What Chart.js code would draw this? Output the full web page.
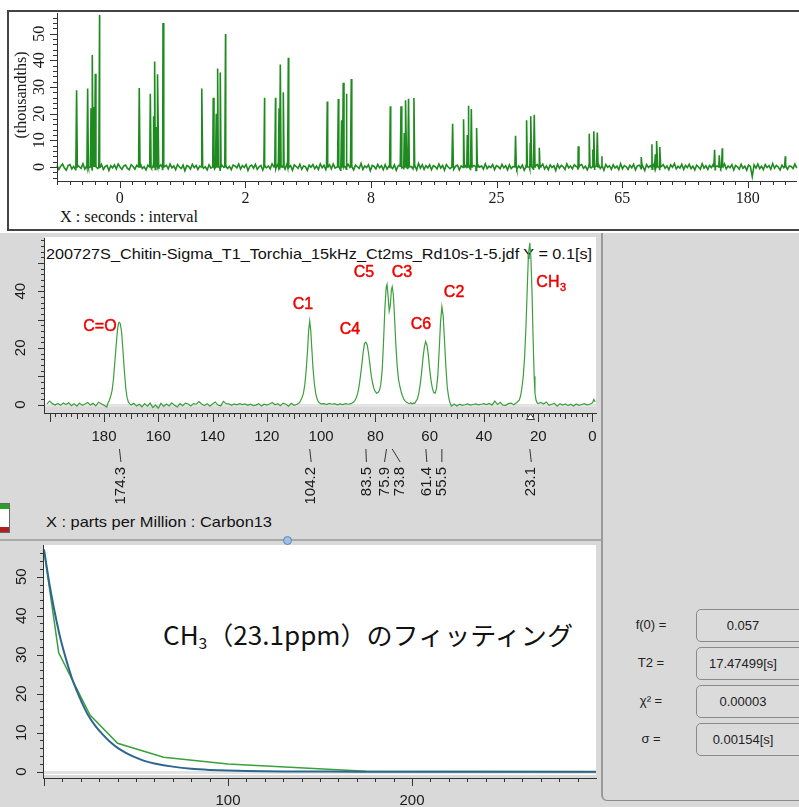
<!DOCTYPE html>
<html>
<head>
<meta charset="utf-8">
<script src="https://cdn.jsdelivr.net/npm/chart.js@4.4.1/dist/chart.umd.min.js"></script>
<style>
html, body { margin: 0; padding: 0; }
body { width: 799px; height: 807px; position: relative; overflow: hidden; background: #fff; font-family: "Liberation Sans", Arial, sans-serif; }
.abs { position: absolute; }
canvas { position: absolute; left: 0; top: 0; pointer-events: none; }
.fit { white-space: nowrap; transform-origin: 0 50%; }
#topBox { left: 7px; top: 10px; width: 810px; height: 221px; box-sizing: border-box; border: 2px solid #444; border-right: none; background: #fff; }
#grayArea { left: 0; top: 233px; width: 799px; height: 574px; background: #d9d9d9; }
#midWhite { left: 45px; top: 237px; width: 551px; height: 170px; background: #fff; }
#botWhite { left: 44px; top: 545px; width: 552px; height: 230px; background: #fff; }
#split { left: 0; top: 539px; width: 601px; height: 2px; background: #a8a8a8; }
#handle { left: 283px; top: 536px; width: 9px; height: 9px; border-radius: 50%; background: #9dc0e6; border: 1px solid #5e86b5; box-sizing: border-box; }
#widget { left: -2px; top: 503px; width: 12px; height: 30px; box-sizing: border-box; border: 1px solid #666; background: #fff; }
#widget .g { position: absolute; left: 0; top: 0; width: 100%; height: 5px; background: #2aa02a; }
#widget .r { position: absolute; left: 0; bottom: 0; width: 100%; height: 5px; background: #b02020; }
#side { left: 601px; top: 233px; width: 220px; height: 568px; box-sizing: border-box; border-left: 2px solid #9a9a9a; border-bottom: 1.5px solid #8c8c8c; border-bottom-left-radius: 6px; }
.lbl { left: 621px; width: 60px; text-align: center; font-size: 13px; color: #222; line-height: 16px; }
.fld { left: 696px; width: 130px; height: 33px; box-sizing: border-box; border: 1px solid #8a8a8a; border-radius: 5px; background: #dbdbdb; }
.fld span { position: absolute; left: 0; width: 92px; text-align: center; top: 8px; font-size: 13px; line-height: 16px; color: #222; }
</style>
</head>
<body>
<div id="topBox" class="abs"></div>
<div id="grayArea" class="abs"></div>
<div id="midWhite" class="abs"></div>
<div id="botWhite" class="abs"></div>
<div id="split" class="abs"></div>
<div id="widget" class="abs"><div class="g"></div><div class="r"></div></div>
<div id="side" class="abs"></div>

<div class="abs fit" data-w="138" style="left:60px;top:207px;font:16px/20px 'Liberation Serif',serif;color:#111;">X : seconds : interval</div>
<div class="abs fit" data-w="546" style="left:46px;top:245px;font-size:15px;line-height:18px;color:#111;">200727S_Chitin-Sigma_T1_Torchia_15kHz_Ct2ms_Rd10s-1-5.jdf Y = 0.1[s]</div>
<div class="abs fit" data-w="226" style="left:46px;top:513px;font-size:15px;line-height:18px;color:#111;">X : parts per Million : Carbon13</div>
<div class="abs fit" data-w="410" style="left:163px;top:619px;font:25px/30px 'Noto Sans CJK JP',sans-serif;color:#111;">CH<span style="font-size:15px;vertical-align:-4px;line-height:0;">3</span>（23.1ppm）のフィッティング</div>
<div id="fields"></div>

<canvas id="cTop" width="799" height="807"></canvas>
<canvas id="cMid" width="799" height="807"></canvas>
<canvas id="cBot" width="799" height="807"></canvas>
<div id="handle" class="abs"></div>

<script>
const W = 799, H = 807;

// ---------- top panel: arrayed slices ----------
const topTickLabels = ['0', '2', '8', '25', '65', '180'];
const spikeX = [
  -0.344, -0.256, -0.229, -0.219, -0.205, -0.195, -0.161,
  0.155, 0.243, 0.269, 0.280, 0.293, 0.304, 0.344,
  0.654, 0.744, 0.768, 0.779, 0.800, 0.842,
  1.153, 1.240, 1.268, 1.278, 1.302, 1.342,
  1.652, 1.740, 1.766, 1.779, 1.803, 1.843,
  2.154, 2.239, 2.265, 2.278, 2.299, 2.342,
  2.650, 2.737, 2.767, 2.777, 2.799, 2.841,
  3.151, 3.239, 3.268, 3.274, 3.300, 3.340,
  3.650, 3.738, 3.767, 3.775, 3.802, 3.839,
  4.152, 4.237, 4.264, 4.277, 4.301,
  4.736, 4.773, 4.797,
  5.299
];
const spikeH = [
  28.8, 29.4, 22, 42, 22.5, 35, 57,
  29.6, 27.5, 19, 39.6, 15, 34.8, 54,
  29.4, 26, 20, 36.9, 35.4, 49.9,
  26, 26, 22, 38.4, 28, 41,
  24.6, 25.5, 17.5, 31.6, 27.5, 33,
  22.75, 22.75, 12.75, 25, 25.6, 25.9,
  16.25, 17.9, 12, 23, 21.75, 14.6,
  11.75, 17.5, 9, 19, 19.6, 7.25,
  7.75, 12.5, 6.6, 13.4, 12.9, 4,
  3.75, 8.5, 4.75, 9.75, 7.5,
  6.5, 4.4, 7,
  4
];
const noiseTop = [
  0.6,-0.9,0.3,1.1,-0.4,-1.2,0.5,0.9,-0.7,0.2,-1.0,0.8,0.1,-0.5,1.2,-0.8,0.4,-0.2,0.7,-1.1,
  0.3,0.9,-0.6,-0.1,1.0,-0.9,0.2,0.6,-1.3,0.5,-0.3,0.8,-0.7,1.1,0.0,-0.9,0.4,0.7,-0.5,-1.0,
  0.9,0.2,-0.8,0.6,-0.2,1.2,-0.6,0.1,-1.1,0.7,0.3,-0.4,1.0,-0.9,0.5,-0.1,0.8,-1.2,0.2,0.6,
  -0.7,1.1,-0.3,0.4,-1.0,0.9,0.0,-0.6,0.7,-1.4,0.5,0.2,-0.8,1.0,-0.2,0.6,-0.9,0.3,1.2,-0.5,
  0.1,-1.1,0.8,-0.4,0.5,-0.7,1.0,0.3,-1.2,0.6,-0.1,0.9,-0.6,0.2,-1.0,0.7,0.4,-0.3,1.1,-0.8,
  0.5,-0.2,0.9,-1.3,0.3,0.7,-0.5,1.0,-0.9,0.1,0.6,-1.1,0.8,-0.3,0.4,-0.7,1.2,0.0,-0.6,0.9,
  -1.0,0.3,0.6,-0.8,1.1,-0.2,0.5,-1.2,0.8,0.2,-0.5,1.0,-0.9,0.4,0.1,-1.3,0.7,-0.1,0.9,-0.6,
  0.4,-0.9,1.2,-0.3,0.6,-1.0,0.2,0.8,-0.7,1.1,-0.4,0.0,0.9,-1.2,0.5,0.3,-0.8,1.0,-0.2,0.6,
  -1.1,0.7,0.1,-0.5,1.3,-0.9,0.4,-0.2,0.8,-1.4,0.6,0.2,-0.7,1.0,-0.3,0.5,-1.0,0.9,-0.8,0.3,
  1.1,-0.6,0.8,-1.2,0.4,0.9,-0.3,-0.9,0.7,-0.5,1.2,0.2,-0.7,0.6,-1.1,1.3,-0.4,0.8,-0.9,0.5,
  -0.3,0.8,-1.0,0.5,0.1,-0.7,1.1,-0.4,0.6,-1.2,0.9,0.0,-0.6,1.0,-0.8,0.3,0.7,-1.1,0.4,-0.2,
  0.7,-0.5,1.0,-0.9,0.2,0.6,-1.3,0.8,-0.1,0.4,-0.8,1.2,-0.6,0.3,-0.2,0.9,-1.0,0.5,0.1,-0.7,
  1.0,-0.3,0.5,-1.1,0.8,-0.6,0.2,1.1,-0.9,0.4,-0.4,0.7,-1.2,0.6,0.0,-0.5,1.0,-0.8,0.3,0.9,
  -0.6,0.2,1.1,-0.7,0.4,-1.0,0.8,-0.2,0.5,-1.3,1.0,-0.4,0.6,0.1,-0.9,1.2,-0.3,0.4,-0.7,0.8,
  0.2,-1.0,0.6,0.9,-0.5,0.3,-1.1,1.0,-0.2,0.7,-0.8,0.4,1.1,-0.6,0.2,-1.2,0.9,-0.1,0.5,-0.9,
  0.8,-0.4,0.3,-1.0,1.2,-0.7,0.5,0.1,-0.9,0.6,-0.3,1.0,-1.1,0.4,0.7,-0.6,0.2,-1.3,0.9,-0.2,
  0.5,-0.8,1.1,-0.3,0.6,-1.2,0.2,0.9,-0.5,0.4,-1.0,0.8,-0.1,1.3,-0.7,0.3,-0.4,1.0,-0.9,0.6,
  -0.2,1.0,-0.6,0.3,-1.1,0.7,0.0,-0.8,1.2,-0.4,0.5,-0.9,0.6,-0.2,1.1,-1.0,0.4,0.8,-0.6,0.2,
  1.2,-0.7,0.4,-0.3,0.9,-1.1,0.6,0.1,-0.8,1.0,-0.5,0.3,-1.2,0.7,0.2,-3.6,0.8,-0.4,1.1,-0.6,
  0.3,-1.0,0.9,-0.2,0.5,-0.8,1.3,-0.5,0.6,0.0,-1.1,0.7,-0.3,1.0,-0.9,0.4,0.2,-0.6,1.1,-0.4
];

// ---------- middle panel: 13C spectrum ----------
const specPpm = [
  201,200,199,198,197,196,195,194,193,192,191,190,189,188,187,186,185,184,183,182,181,180,179,178.5,
  178,177.5,177,176.5,176,175.5,175,174.6,174.3,174,173.5,173,172.5,172,171.5,171,170.5,170,
  169,168,167,166,165,164,163,162,161,160,159,158,157,156,155,154,153,152,151,150,
  149,148,147,146,145,144,143,142,141,140,139,138,137,136,135,134,133,132,131,130,
  129,128,127,126,125,124,123,122,121,120,119,118,117,116,115,114,113,112,111,110,109,108,
  107.5,107,106.5,106,105.5,105,104.6,104.2,103.8,103.4,103,102.5,102,101.5,101,100.5,100,
  99,98,97,96,95,94,93,92,91,90,89,88,87.5,
  87,86.5,86,85.5,85,84.5,84,83.5,83,82.5,82,81.5,81,80.5,80,79.5,79,78.5,78,77.5,77,76.5,76,
  75.7,75.3,74.9,74.5,74.1,73.8,73.4,73,72.5,72,71.5,71,70.5,70,69.5,69,68.5,68,67.5,67,66.5,66,65.5,
  65,64.5,64,63.5,63,62.5,62,61.5,61,60.5,60,59.5,59,58.5,58,57.5,57,56.5,56,55.5,55,54.5,54,53.5,53,52.5,52,51.5,
  51,50,49,48,47,46,45,44,43,42,41,40,39,38,37,36,35,34,33,32,31,30,29,28,
  27,26.5,26,25.5,25,24.5,24,23.6,23.1,22.7,22.3,21.9,21.5,21.2,20.8,20.4,20,
  19,18,17,16,15,14,13,12,11,10,9,8,7,6,5,4,3,2,1,0,-0.5,-1
];
const specInt = [
  0.2,1.2,0.3,-0.2,0.4,-0.3,0.5,0.0,0.6,-0.4,0.3,-0.6,0.5,-0.3,0.2,0.7,-0.2,0.4,-0.5,0.8,0.3,-0.3,-0.9,0.5,
  1.5,3,5,9,15,21,26.5,28.8,29,28.5,25.5,19,12,6,2.5,0.8,0.2,-0.2,
  0.4,-0.5,0.1,-0.8,0.3,-0.6,0.5,-1.1,-0.2,-1.3,0.4,-0.7,0.2,-0.5,0.6,-0.3,-0.9,0.3,-0.4,0.5,
  0.2,-0.5,0.3,0.1,1.0,0.2,-0.4,0.3,-0.6,0.2,0.9,-0.2,-0.5,1.1,0.3,0.2,-0.3,0.2,-0.1,0.3,
  0.0,0.2,-0.3,0.1,-0.4,-0.2,0.3,-0.5,0.1,-0.2,0.2,0.7,-0.1,0.3,-0.4,0.5,0.1,-0.6,0.4,-0.3,0.0,0.6,
  1.5,2.5,4,7,12,19,26,29.5,26,19.5,13,7.5,4,2,1,0.5,0.2,
  0.3,0.0,0.4,0.1,0.3,-0.1,0.2,0.0,0.3,0.1,0.3,0.9,1.5,
  2.5,4,6.5,10,14,18.5,21.5,22,21,18,14,10,7.5,5.5,4.5,4,4.2,5,7,12,22,34,41.5,
  42.4,38,33,35,40.5,41.6,39,32,22,14,9,6.5,4.5,3,1.8,1.2,0.8,0.5,0.3,0.6,0.2,0.5,0.4,
  1.2,2,4,7,11,16,20,22.2,21,17.5,12.5,8.5,5.8,4.2,4,5.5,10,19,29,34.5,31,22,13,6,2.5,0.6,-0.6,-0.3,
  0.2,-0.5,0.1,-0.3,-0.1,0.2,-0.2,0.0,0.2,-0.1,0.1,0.3,0.0,0.4,-0.2,1.2,0.0,0.8,-0.2,-0.3,0.3,0.5,-0.1,0.6,
  1.5,3,6,10,17,28,42,53,57.1,52,40,24,10,4,1.5,0.6,0.3,
  0.7,0.2,0.9,-0.3,0.1,0.4,-0.6,0.3,-0.2,0.2,-0.4,0.1,-0.5,0.2,-0.3,0.0,0.3,-0.1,0.1,0.6,1.8,0.9
];
const ppmTicks = [180, 160, 140, 120, 100, 80, 60, 40, 20, 0];
const peakPpm = [174.3, 104.2, 83.5, 75.9, 73.8, 61.4, 55.5, 23.1];
const peakTagShift = [1.5, 1.5, 0.5, -2, 8, 1, 0, 1.5];
const peakNames = ['C=O', 'C1', 'C4', 'C5', 'C3', 'C6', 'C2', 'CH3'];
const namePpm = [181.5, 106.7, 89.4, 84.2, 70.2, 63.2, 51.0, 15.3];
const nameY = [27.4, 35.1, 26.6, 46.4, 46.4, 28.1, 39.4, 42.9];

// ---------- bottom panel: CH3 decay and fit ----------
const decayT = [0, 8, 25, 40, 65, 100, 175, 300];
const decayObs = [56.8, 30.5, 14.5, 7.3, 3.7, 2.0, 0.1, 0];
const fitT = [0,3,6,9,12,15,18,21,24,28,32,36,40,45,50,55,60,70,80,90,100,120,140,170,200,250,300];
const fitV = [57,48,40.5,34,28.8,24.2,20.5,17.3,14.5,11.7,9.5,7.6,6.1,4.7,3.6,2.7,2.1,1.3,0.75,0.45,0.28,0.1,0.04,0.01,0,0,0];
const fieldLabels = ['f(0) =', 'T2 =', 'χ² =', 'σ ='];
const fieldValues = ['0.057', '17.47499[s]', '0.00003', '0.00154[s]'];

// side panel fields
const fieldsEl = document.getElementById('fields');
fieldLabels.forEach((l, i) => {
  const top = 609 + i * 38;
  fieldsEl.insertAdjacentHTML('beforeend',
    `<div class="abs lbl" style="top:${top + 8}px">${l}</div>` +
    `<div class="abs fld" style="top:${top}px"><span>${fieldValues[i]}</span></div>`);
});

// squeeze plain texts to the widths in the picture
document.querySelectorAll('.fit').forEach(el => {
  const w = el.getBoundingClientRect().width;
  el.style.transform = `scaleX(${(+el.dataset.w / w).toFixed(4)})`;
});

function tickLoop(A, fn) {
  const n = Math.round((A.end - A.start) / A.step);
  for (let i = 0; i <= n; i++) fn(A.start + i * A.step);
}
function tickLen(A, v) {
  const on = s => s && Math.abs(v / s - Math.round(v / s)) < 1e-6;
  return on(A.major) ? A.majorLen : on(A.mid) ? A.midLen : A.minorLen;
}

// axes are drawn by hand so ticks can be major/minor and y labels rotated
function deco(spec) {
  return {
    id: 'deco',
    beforeDatasetsDraw(chart) {
      if (!spec.zero) return;
      const a = chart.chartArea, y0 = Math.round(chart.scales.y.getPixelForValue(0));
      const ctx = chart.ctx;
      ctx.save();
      ctx.fillStyle = '#e3e3e3';
      ctx.fillRect(a.left, y0 - 1, a.right - a.left, 3);
      ctx.restore();
    },
    afterDatasetsDraw(chart) {
      const ctx = chart.ctx, xs = chart.scales.x, ys = chart.scales.y;
      const X = spec.x, Y = spec.y;
      ctx.save();
      ctx.strokeStyle = '#333'; ctx.fillStyle = '#1a1a1a'; ctx.lineWidth = 1;
      ctx.font = spec.font; ctx.textAlign = 'center'; ctx.textBaseline = 'middle';
      ctx.beginPath();
      ctx.moveTo(X.from, X.at + 0.5); ctx.lineTo(X.to, X.at + 0.5);
      ctx.moveTo(Y.at + 0.5, Y.from); ctx.lineTo(Y.at + 0.5, Y.to);
      tickLoop(X, v => {
        const p = Math.round(xs.getPixelForValue(v)) + 0.5;
        ctx.moveTo(p, X.at); ctx.lineTo(p, X.at + tickLen(X, v));
      });
      tickLoop(Y, v => {
        const p = Math.round(ys.getPixelForValue(v)) + 0.5;
        ctx.moveTo(Y.at, p); ctx.lineTo(Y.at - tickLen(Y, v), p);
      });
      ctx.stroke();
      X.labels.forEach(([v, t]) => ctx.fillText(t, xs.getPixelForValue(v), X.labelAt));
      Y.labels.forEach(([v, t]) => {
        ctx.save();
        ctx.translate(Y.labelAt, ys.getPixelForValue(v));
        ctx.rotate(-Math.PI / 2);
        ctx.fillText(t, 0, 0);
        ctx.restore();
      });
      if (spec.yTitle) {
        ctx.save();
        ctx.translate(spec.yTitle.x, spec.yTitle.y);
        ctx.rotate(-Math.PI / 2);
        ctx.fillText(spec.yTitle.text, 0, 0);
        ctx.restore();
      }
      ctx.restore();
    }
  };
}

const peakPlugin = {
  id: 'peaks',
  afterDatasetsDraw(chart) {
    const ctx = chart.ctx, xs = chart.scales.x, ys = chart.scales.y;
    ctx.save();
    // marker triangle for the selected CH3 slice
    const tx = Math.round(xs.getPixelForValue(23.1)) + 0.5;
    ctx.beginPath();
    ctx.moveTo(tx, 413.5); ctx.lineTo(tx - 4, 419.5); ctx.lineTo(tx + 4, 419.5); ctx.closePath();
    ctx.fillStyle = '#fff'; ctx.fill();
    ctx.strokeStyle = '#333'; ctx.lineWidth = 1; ctx.stroke();
    // ppm tags under the axis
    ctx.fillStyle = '#1a1a1a';
    ctx.font = '15px "Liberation Sans"';
    peakPpm.forEach((p, i) => {
      const px = xs.getPixelForValue(p), lx = px + peakTagShift[i];
      ctx.beginPath(); ctx.moveTo(px, 449); ctx.lineTo(lx, 462); ctx.stroke();
      ctx.save();
      ctx.translate(lx, 467);
      ctx.rotate(-Math.PI / 2);
      ctx.textAlign = 'right'; ctx.textBaseline = 'middle';
      ctx.fillText(p.toFixed(1), 0, 0);
      ctx.restore();
    });
    // red assignment names (regular weight, slightly thickened)
    ctx.fillStyle = '#ee0000';
    ctx.strokeStyle = '#ee0000';
    ctx.lineWidth = 0.45;
    ctx.textBaseline = 'middle';
    const big = '16px "Liberation Sans"', small = '11px "Liberation Sans"';
    const put = (t, x, y) => { ctx.fillText(t, x, y); ctx.strokeText(t, x, y); };
    peakNames.forEach((n, i) => {
      const px = xs.getPixelForValue(namePpm[i]), py = ys.getPixelForValue(nameY[i]);
      if (n === 'CH3') {
        ctx.font = big;
        const w1 = ctx.measureText('CH').width;
        ctx.font = small;
        const w2 = ctx.measureText('3').width;
        const x0 = px - (w1 + w2) / 2;
        ctx.textAlign = 'left';
        ctx.font = big;
        put('CH', x0, py);
        ctx.font = small;
        put('3', x0 + w1 + 0.5, py + 5);
      } else {
        ctx.font = big;
        ctx.textAlign = 'center';
        put(n, px, py);
      }
    });
    ctx.restore();
  }
};

function makeChart(id, datasets, xr, yr, area, plugins, reverse) {
  return new Chart(document.getElementById(id), {
    type: 'scatter',
    data: { datasets },
    options: {
      responsive: false,
      animation: false,
      events: [],
      layout: { padding: { left: area[0], top: area[1], right: W - area[2], bottom: H - area[3] } },
      scales: {
        x: { type: 'linear', display: false, min: xr[0], max: xr[1], reverse: !!reverse },
        y: { type: 'linear', display: false, min: yr[0], max: yr[1] }
      },
      plugins: { legend: { display: false }, tooltip: { enabled: false } }
    },
    plugins
  });
}

// top
const topPts = noiseTop.map((v, i) => ({ x: -0.5 + i * 5.89 / (noiseTop.length - 1), y: v }));
spikeX.forEach((x, i) => {
  topPts.push({ x: x - 0.006, y: 0 }, { x: x, y: spikeH[i] }, { x: x + 0.006, y: 0 });
});
topPts.sort((a, b) => a.x - b.x);

makeChart('cTop', [{
  data: topPts, showLine: true, borderColor: '#1f8a1f', borderWidth: 1.6, pointRadius: 0, clip: false
}], [-0.5, 5.392], [-5.25, 57.75], [57, 13, 797, 181], [deco({
  font: '16px "Liberation Serif"',
  x: { at: 181, from: 57, to: 797, start: -0.5, end: 5.3, step: 0.1, major: 1, majorLen: 7, minorLen: 4,
       labels: topTickLabels.map((t, i) => [i, t]), labelAt: 199 },
  y: { at: 57, from: 13, to: 181, start: -4, end: 56, step: 2, major: 10, majorLen: 7, minorLen: 4,
       labels: [0, 10, 20, 30, 40, 50].map(v => [v, String(v)]), labelAt: 40 },
  yTitle: { text: '(thousandths)', x: 22, y: 95 }
})]);

// middle
makeChart('cMid', [{
  data: specPpm.map((p, i) => ({ x: p, y: specInt[i] })),
  showLine: true, borderColor: '#3d9e3d', borderWidth: 1.2, pointRadius: 0, clip: false
}], [-1.29, 201.73], [-0.88, 58.77], [45, 238, 596, 407], [deco({
  font: '15px "Liberation Sans"', zero: true,
  x: { at: 413, from: 44, to: 597, start: 0, end: 200, step: 2, major: 20, majorLen: 9, mid: 10, midLen: 6, minorLen: 4,
       labels: ppmTicks.map(v => [v, String(v)]), labelAt: 437 },
  y: { at: 44, from: 238, to: 413, start: 0, end: 58, step: 2, major: 10, majorLen: 6, minorLen: 3,
       labels: [0, 20, 40].map(v => [v, String(v)]), labelAt: 21 }
}), peakPlugin], true);

// bottom
makeChart('cBot', [{
  data: fitT.map((t, i) => ({ x: t, y: fitV[i] })),
  showLine: true, borderColor: '#2d6790', borderWidth: 2, pointRadius: 0, tension: 0.3, clip: false
}, {
  data: decayT.map((t, i) => ({ x: t, y: decayObs[i] })),
  showLine: true, borderColor: '#3aa03a', borderWidth: 1.5, pointRadius: 0, clip: false
}], [0, 300], [-0.85, 58.13], [44, 545, 596, 775], [deco({
  font: '15px "Liberation Sans"', zero: true,
  x: { at: 778, from: 43, to: 597, start: 0, end: 290, step: 10, major: 100, majorLen: 8, minorLen: 4,
       labels: [100, 200].map(v => [v, String(v)]), labelAt: 801 },
  y: { at: 43, from: 545, to: 778, start: 0, end: 56, step: 2, major: 10, majorLen: 6, minorLen: 3,
       labels: [0, 10, 20, 30, 40, 50].map(v => [v, String(v)]), labelAt: 22 }
})]);
</script>
</body>
</html>
